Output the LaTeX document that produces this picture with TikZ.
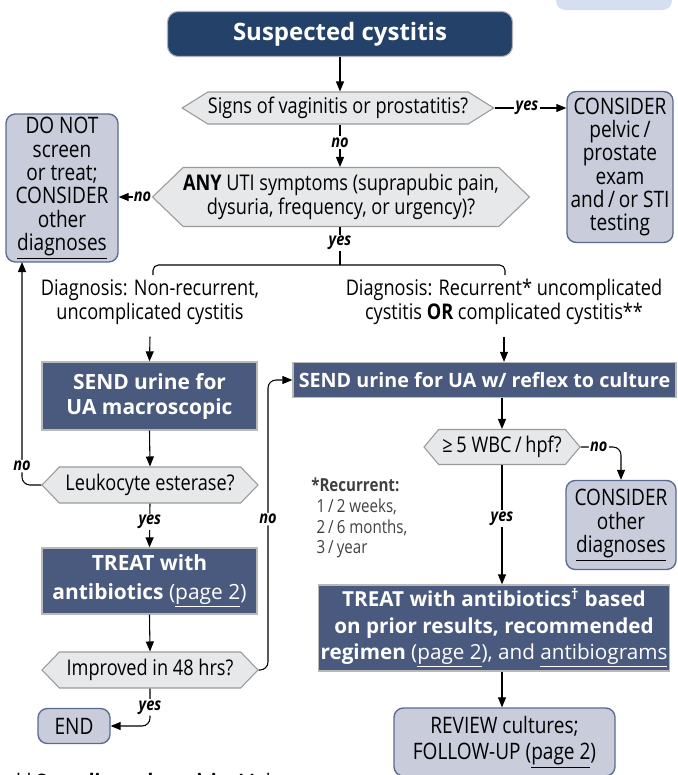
\documentclass[tikz,border=0pt]{standalone}
\usepackage{fontspec}
\setmainfont{Open Sans}[FakeStretch=0.84]
\newfontfamily\boxfont{Open Sans}
\usetikzlibrary{shapes.symbols,arrows.meta,calc}
\definecolor{navy}{HTML}{24416A}
\definecolor{slate}{HTML}{4A5A7E}
\definecolor{lav}{HTML}{C9CCDA}
\definecolor{lavborder}{HTML}{5B6B90}
\definecolor{hexfill}{HTML}{E7E8E9}
\definecolor{hexborder}{HTML}{9A9A9A}
\definecolor{topbox}{HTML}{D6DFF1}
\definecolor{notegray}{HTML}{404040}
\begin{document}
\begin{tikzpicture}[x=0.75pt,y=-0.75pt,
  size/.style 2 args={minimum width={#1*0.75pt},minimum height={#2*0.75pt}},
  body/.style={font=\fontsize{16.2}{17.6}\selectfont},
  titlebox/.style={fill=navy,draw=gray!60,line width=0.8pt,rounded corners=8pt,text=white,
    font=\boxfont\fontsize{18}{20}\selectfont\bfseries,inner sep=0pt},
  bluebox/.style={fill=slate,draw=gray!55,line width=1pt,text=white,align=center,
    font=\boxfont\fontsize{15.7}{18.75}\selectfont\bfseries,inner sep=0pt},
  lightbox/.style={fill=lav,draw=lavborder,line width=1pt,rounded corners=7pt,align=center,
    font=\fontsize{17}{17.5}\selectfont,inner sep=0pt},
  hexq/.style={signal,signal to=west and east,signal pointer angle=64,fill=hexfill,
    draw=hexborder,line width=0.8pt,align=center,body,inner sep=0pt},
  plain/.style={align=center,body,inner sep=0pt},
  lbl/.style={font=\fontsize{13}{14}\selectfont\bfseries\itshape,fill=white,inner sep=1pt},
  arr/.style={-{Triangle[length=7.5pt,width=6pt]},line width=0.8pt},
  ln/.style={line width=0.8pt}]
\useasboundingbox (0,0) rectangle (678,775);
\clip (0,0) rectangle (678,775);

% partial box at top right
\fill[topbox,rounded corners=7pt] (556,-30) rectangle (672,10);

% nodes
\node[titlebox,size={345}{45}] (title) at (340,34) {Suspected cystitis};
\node[hexq,size={309}{32}] (h1) at (338,108) {Signs of vaginitis or prostatitis?};
\node[lightbox,size={106}{151}] (c1) at (620,167) {CONSIDER\\pelvic\,/\\prostate\\exam\\and\,/\,or STI\\testing};
\node[hexq,size={359}{59},signal pointer angle=88] (h2) at (341,197)
  {\textbf{ANY} UTI symptoms (suprapubic pain,\\dysuria, frequency, or urgency)?};
\node[lightbox,size={112}{148}] (dn) at (62,188) {DO NOT\\screen\\or treat;\\CONSIDER\\other\\\underline{diagnoses}};

\coordinate (bl) at (153,275);
\coordinate (bm) at (340,265);
\coordinate (br) at (505,275);

\node[plain] (dl) at (150,302) {Diagnosis: Non-recurrent,\\uncomplicated cystitis};
\node[plain] (dr) at (504,302) {Diagnosis: Recurrent* uncomplicated\\cystitis \textbf{OR} complicated cystitis**};

\node[bluebox,size={215}{68}] (sl) at (149.5,396) {SEND urine for\\UA macroscopic};
\node[hexq,size={216}{36},signal pointer angle=92] (h3) at (150,485) {Leukocyte esterase?};
\node[bluebox,size={215}{66},font=\boxfont\fontsize{15.7}{21.5}\selectfont\bfseries] (tl) at (149.5,581) {TREAT with\\antibiotics \mdseries(\underline{page 2})};
\node[hexq,size={216}{36},signal pointer angle=92] (h4) at (150,670) {Improved in 48 hrs?};
\node[lightbox,size={72}{35}] (end) at (74,726) {END};

\node[bluebox,size={383}{35},font=\boxfont\fontsize{14.8}{18}\selectfont\bfseries] (sr) at (484.5,380) {SEND urine for UA w/ reflex to culture};
\node[hexq,size={156}{35},signal pointer angle=100] (h5) at (502,447) {≥\,5 WBC\,/\,hpf?};
\node[lightbox,size={110}{89}] (c2) at (621,525) {CONSIDER\\other\\\underline{diagnoses}};
\node[bluebox,size={351}{86},font=\boxfont\fontsize{15.5}{20}\selectfont\bfseries] (tr) at (494,628)
  {TREAT with antibiotics\textsuperscript{†} based\\on prior results, recommended\\regimen \mdseries(\underline{page 2}), and \underline{antibiograms}};
\node[lightbox,size={221}{68},font=\fontsize{17}{19.5}\selectfont] (rv) at (504.5,742) {REVIEW cultures;\\FOLLOW-UP (\underline{page 2})};

\node[anchor=north west,align=left,text=notegray,inner sep=0pt,
  font=\fontsize{13.5}{15.4}\selectfont] (note) at (311,478)
  {\textbf{*Recurrent:}\\\hspace*{4pt}1\,/\,2 weeks,\\\hspace*{4pt}2\,/\,6 months,\\\hspace*{4pt}3\,/\,year};

\node[anchor=base west,inner sep=0pt,font=\fontsize{17}{19}\selectfont] (fn) at (13,790)
  {**\textbf{Complicated cystitis:} Males, pregnant};

% connectors
\draw[arr] (title.south) -- (title.south |- h1.north);
\draw[arr] (h1.east) -- node[lbl,pos=0.45]{yes} (c1.west |- h1.east);
\draw[arr] (title.south |- h1.south) -- node[lbl,pos=0.42]{no} (title.south |- h2.north);
\draw[arr] (h2.west) -- node[lbl,pos=0.28]{no} (dn.east |- h2.west);
\draw[ln] (bm |- h2.south) -- node[lbl,pos=0.42]{yes} (bm);
\draw[ln,rounded corners=4pt] (bl) -- (bl |- bm) -- (br |- bm) -- (br);

\draw[arr] ($(dl.south)+(0,12)$) -- (sl.north);
\draw[arr] ($(dr.south)+(0,12)$) -- (dr.south |- sr.north);

\draw[arr] (sl.south) -- (h3.north);
\draw[arr,rounded corners=6pt] (h3.west) -- (22,485) -- node[lbl,pos=0.085]{no} (22,262);
\draw[arr] (h3.south) -- node[lbl,pos=0.42]{yes} (tl.north);
\draw[arr] (tl.south) -- (h4.north);
\draw[arr,rounded corners=6pt] (h4.east) -- (268,670) -- node[lbl,pos=0.52]{no} (268,380) -- (sr.west);
\draw[arr,rounded corners=6pt] (h4.south) -- node[lbl,pos=0.5]{yes} (h4.south |- end.east) -- (end.east);

\draw[arr] (h5.north |- sr.south) -- (h5.north);
\draw[arr,rounded corners=6pt] (h5.east) -- node[lbl,pos=0.45]{no} (c2.north |- h5.east) -- (c2.north);
\draw[arr] (h5.south) -- node[lbl,pos=0.45]{yes} (h5.south |- tr.north);
\draw[arr] (h5.south |- tr.south) -- (h5.south |- rv.north);
\end{tikzpicture}
\end{document}
